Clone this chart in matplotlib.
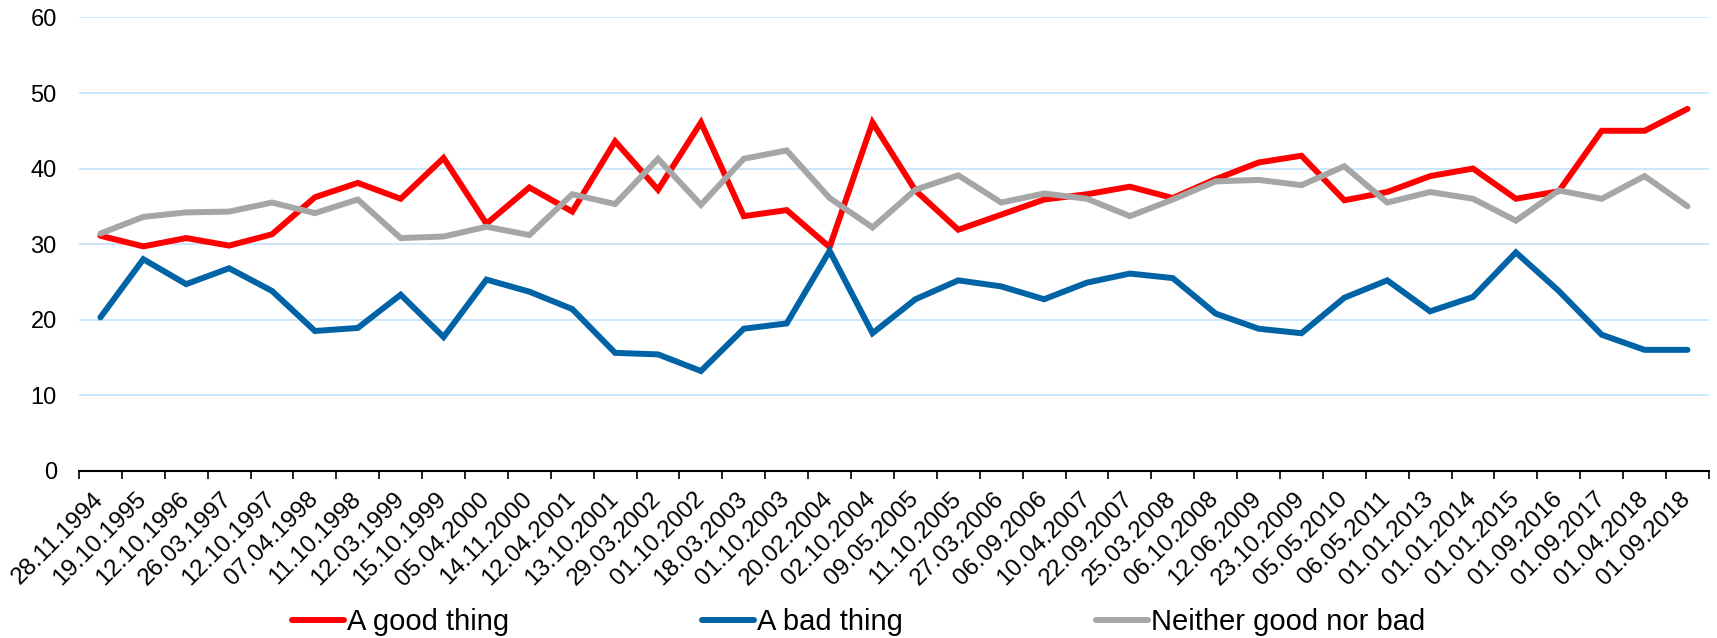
import matplotlib.pyplot as plt
import matplotlib.transforms as mtransforms
import numpy as np

plt.rcParams['font.family'] = ['Liberation Sans', 'DejaVu Sans']

dates = ['28.11.1994', '19.10.1995', '12.10.1996', '26.03.1997', '12.10.1997',
         '07.04.1998', '11.10.1998', '12.03.1999', '15.10.1999', '05.04.2000',
         '14.11.2000', '12.04.2001', '13.10.2001', '29.03.2002', '01.10.2002',
         '18.03.2003', '01.10.2003', '20.02.2004', '02.10.2004', '09.05.2005',
         '11.10.2005', '27.03.2006', '06.09.2006', '10.04.2007', '22.09.2007',
         '25.03.2008', '06.10.2008', '12.06.2009', '23.10.2009', '05.05.2010',
         '06.05.2011', '01.01.2013', '01.01.2014', '01.01.2015', '01.09.2016',
         '01.09.2017', '01.04.2018', '01.09.2018']

good = [31.1, 29.7, 30.8, 29.8, 31.3, 36.2, 38.1, 36.0, 41.4, 32.7,
        37.5, 34.3, 43.6, 37.2, 46.1, 33.7, 34.5, 29.6, 46.1, 37.1,
        31.9, 33.9, 35.9, 36.6, 37.6, 36.1, 38.6, 40.8, 41.7, 35.8,
        36.9, 39.0, 40.0, 36.0, 37.0, 45.0, 45.0, 47.9]

bad = [20.3, 28.0, 24.7, 26.8, 23.8, 18.5, 18.9, 23.3, 17.7, 25.3,
       23.7, 21.4, 15.6, 15.4, 13.2, 18.8, 19.5, 29.1, 18.2, 22.7,
       25.2, 24.4, 22.7, 24.9, 26.1, 25.5, 20.8, 18.8, 18.2, 22.9,
       25.2, 21.1, 23.0, 28.9, 23.8, 18.0, 16.0, 16.0]

neither = [31.4, 33.6, 34.2, 34.3, 35.5, 34.1, 35.9, 30.8, 31.0, 32.3,
           31.2, 36.6, 35.3, 41.3, 35.2, 41.3, 42.4, 36.1, 32.2, 37.2,
           39.1, 35.5, 36.7, 36.0, 33.7, 35.9, 38.3, 38.5, 37.8, 40.3,
           35.5, 36.9, 36.0, 33.1, 37.1, 36.0, 39.0, 35.0]

fig = plt.figure(figsize=(17.17, 6.38), dpi=100)
ax = fig.add_axes([0.046, 0.2622, 0.9493, 0.7104])

x = np.arange(len(dates))
lw = 4.3
ax.plot(x, good, color='#FF0000', lw=lw, solid_capstyle='round', solid_joinstyle='miter', label='A good thing', zorder=3)
ax.plot(x, bad, color='#0063A6', lw=lw, solid_capstyle='round', solid_joinstyle='miter', label='A bad thing', zorder=3)
ax.plot(x, neither, color='#A6A6A6', lw=lw, solid_capstyle='round', solid_joinstyle='miter', label='Neither good nor bad', zorder=3)

ax.set_xlim(-0.5, len(dates) - 0.5)
ax.set_ylim(0, 60)
ax.set_yticks(np.arange(0, 61, 10))
ax.grid(axis='y', color='#CBE6FA', lw=1.4, zorder=0)
ax.tick_params(axis='y', length=0, labelsize=17, pad=16)

# tick marks between categories, labels at the centres
ax.set_xticks(np.arange(-0.5, len(dates)), minor=False)
ax.set_xticklabels([])
ax.tick_params(axis='x', which='major', length=6, width=1.2, direction='out', color='black')
ax.set_xticks(x, minor=True)
ax.set_xticklabels(dates, minor=True, rotation=45, ha='right', rotation_mode='anchor', fontsize=17.5)
ax.tick_params(axis='x', which='minor', length=0, pad=14)
shift = mtransforms.ScaledTranslation(-8 / 100, 2 / 100, fig.dpi_scale_trans)
for lab in ax.get_xticklabels(minor=True):
    lab.set_transform(lab.get_transform() + shift)

for s in ['left', 'right', 'top']:
    ax.spines[s].set_visible(False)
ax.spines['bottom'].set_color('black')
ax.spines['bottom'].set_linewidth(1.5)

fig.legend(loc='center', bbox_to_anchor=(0.5, 0.025), ncol=3, frameon=False,
           fontsize=21, handlelength=1.8, handletextpad=0.1, columnspacing=6.6,
           borderpad=0)

fig.savefig('out.png', dpi=100)
